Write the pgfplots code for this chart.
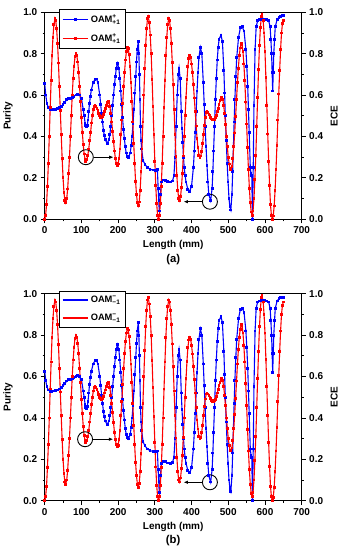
\documentclass[border=0pt]{standalone}
\usepackage{fontspec}
\setmainfont{Liberation Sans}[UprightFont=* Bold, BoldFont=* Bold]
\usepackage{amsmath}
\usepackage{pgfplots}
\usepackage{pgfplotstable}
\pgfplotsset{compat=1.18}
\usetikzlibrary{arrows.meta}

\pgfplotstableread{
x y
0 0.655
3 0.60
6 0.56
10 0.54
15 0.53
20 0.528
25 0.53
30 0.532
35 0.535
40 0.54
45 0.545
50 0.555
55 0.565
60 0.578
65 0.585
70 0.585
75 0.588
80 0.595
85 0.60
90 0.603
95 0.60
100 0.585
105 0.53
107.5 0.50
110 0.465
112 0.452
114 0.447
116 0.455
118 0.48
120 0.52
122 0.56
124.5 0.595
127 0.625
132 0.66
137 0.677
141 0.678
145 0.66
150 0.60
152.5 0.555
155 0.51
157.5 0.47
160 0.43
162.5 0.405
165 0.385
170 0.367
175 0.385
177.5 0.41
180 0.45
182.5 0.50
185 0.55
187.5 0.60
190 0.65
192.5 0.69
195 0.73
198 0.754
202 0.73
204.5 0.68
207 0.62
209.5 0.555
212 0.49
214.5 0.435
217 0.39
219.5 0.35
222 0.32
225 0.305
228 0.298
233 0.32
235.5 0.355
238 0.40
240.5 0.46
243 0.53
245.5 0.61
248 0.69
250 0.76
252 0.82
255 0.86
256.5 0.80
258 0.70
259.5 0.58
261 0.45
262.5 0.38
264 0.34
268 0.285
273 0.265
280 0.25
287 0.242
295 0.238
302 0.237
307 0.24
309 0.15
312 0.04
315 0.12
318 0.18
322 0.19
328 0.188
335 0.182
342 0.18
348 0.185
352 0.21
355 0.30
358 0.45
361 0.60
364 0.70
366 0.73
369 0.68
372 0.52
374 0.44
376 0.37
378 0.30
380 0.25
382.5 0.21
385 0.18
390 0.145
395 0.135
400 0.16
405 0.25
407.5 0.33
410 0.42
412.5 0.52
415 0.62
417.5 0.71
420 0.78
424 0.83
428 0.80
432 0.66
434.5 0.555
437 0.45
439.5 0.35
442 0.26
444.5 0.18
447 0.12
452 0.09
456 0.15
458 0.23
460 0.33
462.5 0.45
465 0.58
467.5 0.68
470 0.77
472.5 0.83
475 0.87
480 0.89
484 0.86
488 0.72
490 0.61
492 0.50
494.5 0.38
497 0.27
499.5 0.18
502 0.10
504.5 0.06
507 0.045
510 0.12
512 0.23
514 0.35
516 0.47
518 0.58
520.5 0.69
523 0.78
528 0.88
533 0.925
538 0.93
543 0.91
548 0.82
550.5 0.74
553 0.64
555 0.53
557 0.42
560 0.25
562 0.22
564 0.21
566 0.00
568 0.25
570 0.55
573 0.82
576 0.93
580 0.96
585 0.965
590 0.966
595 0.966
600 0.966
605 0.965
610 0.96
614 0.93
616 0.87
618 0.80
619.5 0.71
621 0.62
622.5 0.71
624 0.80
626 0.87
628 0.93
633 0.965
638 0.975
643 0.98
648 0.983
650 0.983
}\blueA

\pgfplotstableread{
x y
0 0.625
3 0.58
6 0.55
10 0.535
15 0.528
20 0.526
25 0.53
30 0.532
35 0.535
40 0.54
45 0.545
50 0.555
55 0.565
60 0.578
65 0.585
70 0.585
75 0.588
80 0.595
85 0.60
90 0.603
95 0.60
100 0.585
105 0.53
107.5 0.50
110 0.465
112 0.452
114 0.447
116 0.455
118 0.48
120 0.52
122 0.56
124.5 0.595
127 0.625
132 0.66
137 0.677
141 0.678
145 0.66
150 0.60
152.5 0.555
155 0.51
157.5 0.47
160 0.43
162.5 0.405
165 0.385
170 0.367
175 0.385
177.5 0.41
180 0.45
182.5 0.50
185 0.55
187.5 0.60
190 0.65
192.5 0.69
195 0.73
198 0.754
202 0.73
204.5 0.68
207 0.62
209.5 0.555
212 0.49
214.5 0.435
217 0.39
219.5 0.35
222 0.32
225 0.305
228 0.298
233 0.32
235.5 0.355
238 0.40
240.5 0.46
243 0.53
245.5 0.61
248 0.69
250 0.76
252 0.82
255 0.86
256.5 0.80
258 0.70
259.5 0.58
261 0.45
262.5 0.38
264 0.34
268 0.285
273 0.265
280 0.25
287 0.242
295 0.238
302 0.237
307 0.24
309 0.15
312 0.04
315 0.12
318 0.18
322 0.19
328 0.188
335 0.182
342 0.18
348 0.185
352 0.21
355 0.30
358 0.45
361 0.60
364 0.70
366 0.73
369 0.68
372 0.52
374 0.44
376 0.37
378 0.30
380 0.25
382.5 0.21
385 0.18
390 0.145
395 0.135
400 0.16
405 0.25
407.5 0.33
410 0.42
412.5 0.52
415 0.62
417.5 0.71
420 0.78
424 0.83
428 0.80
432 0.66
434.5 0.555
437 0.45
439.5 0.35
442 0.26
444.5 0.18
447 0.12
452 0.09
456 0.15
458 0.23
460 0.33
462.5 0.45
465 0.58
467.5 0.68
470 0.77
472.5 0.83
475 0.87
480 0.89
484 0.86
488 0.72
490 0.61
492 0.50
494.5 0.38
497 0.27
499.5 0.18
502 0.10
504.5 0.06
507 0.045
510 0.12
512 0.23
514 0.35
516 0.47
518 0.58
520.5 0.69
523 0.78
528 0.88
533 0.925
538 0.93
543 0.91
548 0.82
550.5 0.74
553 0.64
555 0.53
557 0.42
560 0.25
562 0.22
564 0.21
566 0.00
568 0.25
570 0.55
573 0.82
576 0.93
580 0.96
585 0.965
590 0.966
595 0.966
600 0.966
605 0.965
610 0.96
614 0.93
616 0.87
618 0.80
619.5 0.71
621 0.62
622.5 0.71
624 0.80
626 0.87
628 0.93
633 0.965
638 0.975
643 0.98
648 0.983
650 0.983
}\blueB

\pgfplotstableread{
x y
0 0.00
2.5 0.02
5 0.07
7.5 0.16
10 0.27
12.5 0.40
15 0.54
17.5 0.67
20 0.79
22.5 0.88
25 0.94
28 0.97
30 0.96
32.5 0.92
35 0.85
37.5 0.755
40 0.64
42.5 0.525
45 0.41
47.5 0.295
50 0.20
52.5 0.13
55 0.09
57 0.08
60 0.10
62.5 0.146
65 0.22
67.5 0.30
70 0.40
72.5 0.50
75 0.60
77.5 0.68
80 0.74
82.5 0.785
85 0.80
87.5 0.79
90 0.76
92.5 0.71
95 0.64
97.5 0.57
100 0.49
102.5 0.42
105 0.36
107.5 0.315
110 0.29
112 0.28
115 0.29
117.5 0.31
120 0.34
122.5 0.38
125 0.42
127.5 0.465
130 0.50
132.5 0.53
135 0.545
137 0.55
140 0.545
142.5 0.537
145 0.525
147.5 0.512
150 0.50
152.5 0.493
155 0.49
157.5 0.495
160 0.505
162.5 0.52
165 0.535
167.5 0.55
170 0.565
173 0.57
175 0.565
177.5 0.546
180 0.51
182.5 0.47
185 0.425
187.5 0.376
190 0.33
192.5 0.295
195 0.27
198 0.26
200 0.267
202.5 0.295
205 0.34
207.5 0.41
210 0.48
212.5 0.56
215 0.64
217.5 0.71
220 0.77
222.5 0.81
225 0.83
227.5 0.825
230 0.795
232.5 0.74
235 0.66
237.5 0.57
240 0.47
242.5 0.365
245 0.27
247.5 0.184
250 0.12
252.5 0.08
255 0.065
257.5 0.084
260 0.14
262.5 0.229
265 0.34
267.5 0.47
270 0.60
272.5 0.727
275 0.84
277.5 0.92
280 0.97
282 0.98
285 0.95
287.5 0.89
290 0.80
292.5 0.677
295 0.545
297.5 0.408
300 0.28
302.5 0.163
305 0.075
307.5 0.02
310 0.00
312.5 0.019
315 0.075
317.5 0.16
320 0.27
322.5 0.40
325 0.54
327.5 0.67
330 0.79
332.5 0.88
335 0.94
338 0.97
340 0.96
342.5 0.92
345 0.85
347.5 0.757
350 0.65
352.5 0.53
355 0.41
357.5 0.303
360 0.21
362.5 0.14
365 0.10
367 0.09
370 0.11
372.5 0.154
375 0.22
377.5 0.306
380 0.40
382.5 0.50
385 0.59
387.5 0.674
390 0.74
392.5 0.776
395 0.79
397.5 0.78
400 0.75
402.5 0.709
405 0.65
407.5 0.586
410 0.52
412.5 0.451
415 0.39
417.5 0.346
420 0.31
423 0.30
425 0.306
427.5 0.329
430 0.365
432.5 0.41
435 0.455
437.5 0.491
440 0.515
442 0.52
445 0.515
447.5 0.508
450 0.50
452.5 0.492
455 0.485
457.5 0.481
460 0.48
462.5 0.483
465 0.49
467.5 0.503
470 0.52
472.5 0.537
475 0.555
477.5 0.572
480 0.585
482 0.59
485 0.58
487.5 0.55
490 0.51
492.5 0.459
495 0.40
497.5 0.35
500 0.30
502.5 0.267
505 0.245
507 0.24
510 0.255
512.5 0.292
515 0.35
517.5 0.417
520 0.495
522.5 0.578
525 0.66
527.5 0.73
530 0.79
532.5 0.828
535 0.85
537.5 0.845
540 0.81
542.5 0.75
545 0.67
547.5 0.567
550 0.46
552.5 0.345
555 0.24
557.5 0.149
560 0.08
562.5 0.035
565 0.02
567.5 0.04
570 0.10
572.5 0.194
575 0.31
577.5 0.449
580 0.59
582.5 0.722
585 0.84
587.5 0.925
590 0.98
592 0.99
595 0.96
597.5 0.90
600 0.81
602.5 0.684
605 0.55
607.5 0.412
610 0.28
612.5 0.164
615 0.07
617.5 0.02
620 0.00
622.5 0.016
625 0.064
627.5 0.14
630 0.24
632.5 0.355
635 0.48
637.5 0.605
640 0.72
642.5 0.82
645 0.90
647.5 0.944
650 0.96
}\redE

\pgfplotsset{
  base/.style={
    scale only axis, width=257pt, height=207pt,
    xmin=0, xmax=700, ymin=0, ymax=1,
    xtick={0,100,...,700}, ytick={0,0.2,0.4,0.6,0.8,1.0},
    minor x tick num=1, minor y tick num=1,
    tick align=outside, major tick length=4pt, minor tick length=2pt,
    axis line style={line width=0.8pt, -},
    every tick/.style={black, line width=0.8pt},
    /pgf/number format/assume math mode=true,
    tick label style={font=\fontsize{10}{12}\selectfont},
    yticklabel style={/pgf/number format/.cd, fixed, fixed zerofill, precision=1},
    xticklabel style={/pgf/number format/.cd, fixed, precision=0},
    label style={font=\fontsize{11.3}{13}\selectfont},
  },
  blueS/.style={color=blue, line width=1.1pt, mark=square*, mark size=0.85pt, mark options={solid}},
  redS/.style={color=red, line width=1.1pt, mark=square*, mark size=0.85pt, mark options={solid}},
  leg/.style={
    legend style={at={(axis description cs:0.055,1.014)}, anchor=north west,
      draw=black, line width=0.5pt, font=\fontsize{9.3}{11}\selectfont,
      inner sep=3pt, row sep=6pt, cells={anchor=west}},
    legend image code/.code={\draw[mark repeat=2,mark phase=2] plot coordinates {(0cm,0cm) (0.45cm,0cm) (0.9cm,0cm)};},
  },
  lefty/.style={
    tick pos=left,
    every axis y label/.style={at={(axis description cs:-0.143,0.5)}, rotate=90, anchor=center},
    every axis x label/.style={at={(axis description cs:0.5,-0.126)}, anchor=center},
  },
  righty/.style={
    axis x line=none, axis y line*=right,
    every axis y label/.style={at={(axis description cs:1.126,0.5)}, rotate=90, anchor=center},
  },
}

\begin{document}
\begin{tikzpicture}
\useasboundingbox (0,0) rectangle (345pt,550pt);
% ---------------- panel (a)
\begin{axis}[base, lefty, leg, name=pa, at={(44.7pt,330.7pt)}, anchor=south west,
  ylabel={Purity}, xlabel={Length (mm)}]
\addplot[blueS] table[x=x,y=y] {\blueA};
\addlegendentry{OAM$^{\text{+}}_{\text{+1}}$}
\addplot[redS] table[x=x,y=y] {\redE};
\addlegendentry{OAM$^{\text{+}}_{\text{+1}}$}
\draw[black, line width=0.9pt] (axis cs:112,0.30) circle[radius=7.5pt];
\draw[black, line width=0.9pt, -{Latex[length=4.5pt,width=3.5pt]}] (axis cs:133,0.30) -- (axis cs:188,0.30);
\draw[black, line width=0.9pt] (axis cs:450,0.085) circle[radius=7.5pt];
\draw[black, line width=0.9pt, -{Latex[length=4.5pt,width=3.5pt]}] (axis cs:429,0.085) -- (axis cs:378,0.085);
\end{axis}
\begin{axis}[base, righty, at={(44.7pt,330.7pt)}, anchor=south west, ylabel={ECE}]
\end{axis}
\node[font=\fontsize{11.3}{13}\selectfont] at ([yshift=-40pt]pa.south) {(a)};
% ---------------- panel (b)
\begin{axis}[base, lefty, leg, name=pb, at={(44.7pt,49.3pt)}, anchor=south west,
  ylabel={Purity}, xlabel={Length (mm)}]
\addplot[blueS] table[x=x,y=y] {\blueB};
\addlegendentry{OAM$^{\text{\char"2212}}_{\text{\char"2212 1}}$}
\addplot[redS] table[x=x,y=y] {\redE};
\addlegendentry{OAM$^{\text{\char"2212}}_{\text{\char"2212 1}}$}
\draw[black, line width=0.9pt] (axis cs:110,0.297) circle[radius=7.5pt];
\draw[black, line width=0.9pt, -{Latex[length=4.5pt,width=3.5pt]}] (axis cs:131,0.297) -- (axis cs:187,0.297);
\draw[black, line width=0.9pt] (axis cs:450,0.089) circle[radius=7.5pt];
\draw[black, line width=0.9pt, -{Latex[length=4.5pt,width=3.5pt]}] (axis cs:429,0.089) -- (axis cs:378,0.089);
\end{axis}
\begin{axis}[base, righty, at={(44.7pt,49.3pt)}, anchor=south west, ylabel={ECE}]
\end{axis}
\node[font=\fontsize{11.3}{13}\selectfont] at ([yshift=-40pt]pb.south) {(b)};
\end{tikzpicture}
\end{document}
